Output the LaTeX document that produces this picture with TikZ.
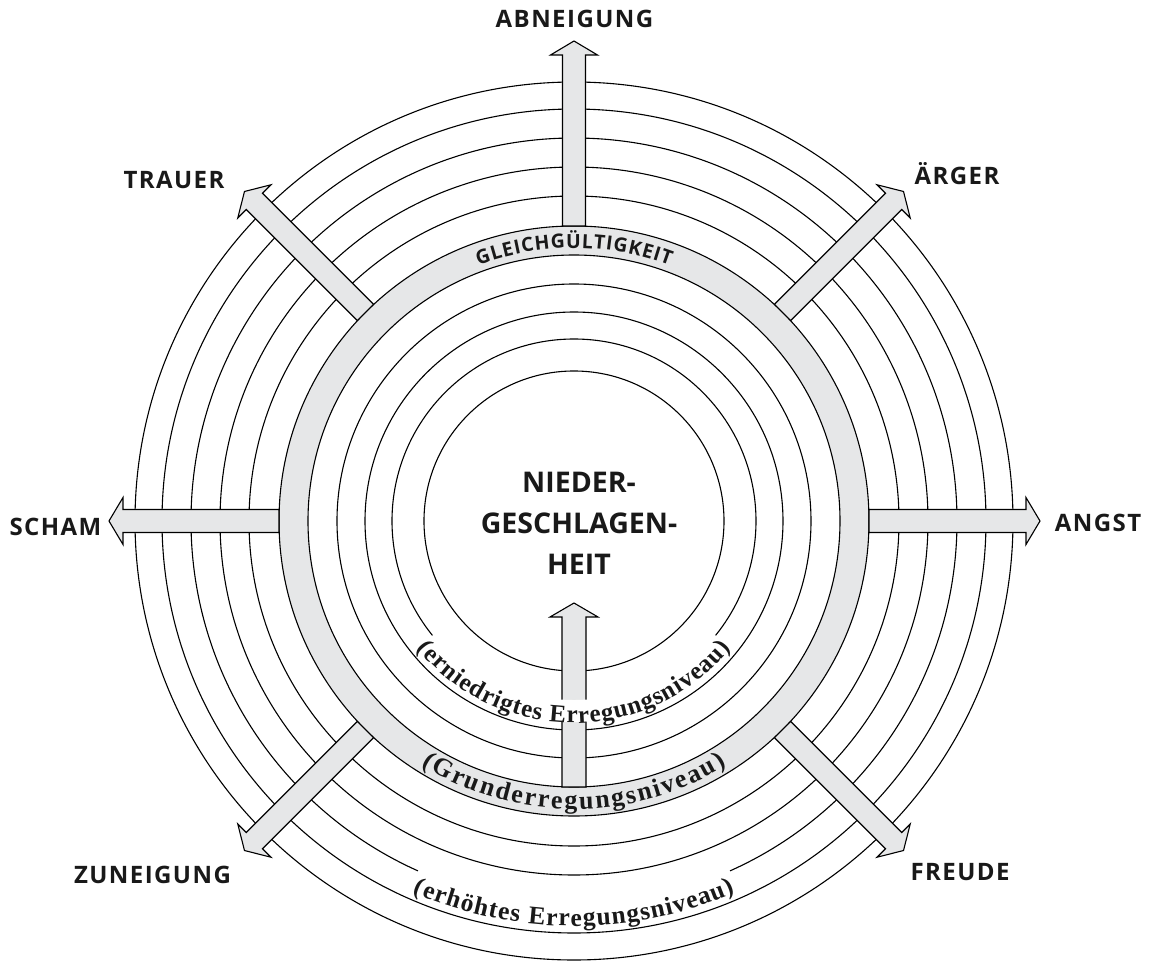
\documentclass[tikz,border=0pt]{standalone}
\usepackage{fontspec}
\setmainfont{Open Sans}
\newfontfamily\osans{Open Sans}
\newfontfamily\osanssp{Open Sans}[LetterSpace=6]
\newfontfamily\lserif{Liberation Serif}
\usetikzlibrary{decorations.text}
\definecolor{bandgray}{HTML}{E6E7E8}
\tikzset{
  ring/.style={draw=black, line width=1.1pt},
  arrowshape/.style={fill=bandgray, draw=black, line width=1.1pt, line join=miter},
  emolabel/.style={font=\osanssp\bfseries\fontsize{24}{24}\selectfont, anchor=base, inner sep=0pt, text=black!90},
  centertext/.style={font=\osans\bfseries\fontsize{28.5}{41}\selectfont, align=center, inner sep=0pt, text=black!90},
  cover/.style={draw=white, line width=#1},
}
\begin{document}
\begin{tikzpicture}[x=1pt,y=1pt]
\useasboundingbox[fill=white] (-574,-440) rectangle (576,521);
% grey band
\fill[bandgray, even odd rule] (0,0) circle[radius=295pt] (0,0) circle[radius=266pt];
% rings
\foreach \r in {150,182,209,237,266,295,325,354,383,412,439}
  \draw[ring] (0,0) circle[radius=\r pt];
% outer arrows
\foreach \a/\t in {90/480,45/466,135/466,0/466,180/465,225/466,315/466}
  \filldraw[arrowshape, rotate=\a] (295,-11.5) -- ({\t-14},-11.5) -- ({\t-14},-23.5) -- (\t,0)
     -- ({\t-14},23.5) -- ({\t-14},11.5) -- (295,11.5) -- cycle;
% inner arrow
\filldraw[arrowshape] (-12,-266) -- (-12,-96) -- (-24,-96) -- (0,-82) -- (24,-96) -- (12,-96) -- (12,-266) -- cycle;
% white backgrounds of the curved labels
\draw[cover=22pt] (-141:190pt) arc[start angle=-141, end angle=-39, radius=190pt];
\draw[cover=28pt] (-114:388pt) arc[start angle=-114, end angle=-66, radius=388pt];
% curved texts
\path[decorate, decoration={text along path, text align={fit to path},
  text={|\lserif\bfseries\fontsize{25}{25}\selectfont\color{black!90}|(erniedrigtes Erregungsniveau)}}]
  (-141:202pt) arc[start angle=-141, end angle=-39, radius=202pt];
\path[decorate, decoration={text along path, text align={fit to path},
  text={|\lserif\bfseries\fontsize{26}{26}\selectfont\color{black!90}|(Grunderregungsniveau)}}]
  (-122:288pt) arc[start angle=-122, end angle=-58, radius=288pt];
\path[decorate, decoration={text along path, text align={fit to path},
  text={|\lserif\bfseries\fontsize{25.5}{25.5}\selectfont\color{black!90}|(erhöhtes Erregungsniveau)}}]
  (-113.5:405pt) arc[start angle=-113.5, end angle=-66.5, radius=405pt];
\path[decorate, decoration={text along path, text align={fit to path},
  text={|\osans\bfseries\fontsize{19.5}{19.5}\selectfont\color{black!90}|GLEICHGÜLTIGKEIT}}]
  (110.5:273pt) arc[start angle=110.5, end angle=69.5, radius=273pt];
% labels
\node[emolabel] (abneigung) at (0.5,493) {ABNEIGUNG};
\node[emolabel] (trauer) at (-400,332) {TRAUER};
\node[emolabel] (aerger) at (383,336) {ÄRGER};
\node[emolabel] (scham) at (-518.5,-14) {SCHAM};
\node[emolabel] (angst) at (524,-10) {ANGST};
\node[emolabel] (zuneigung) at (-421.5,-362) {ZUNEIGUNG};
\node[emolabel] (freude) at (386,-359) {FREUDE};
\node[centertext] (nieder) at (5,-2.8) {NIEDER-\\GESCHLAGEN-\\HEIT};
\end{tikzpicture}
\end{document}
